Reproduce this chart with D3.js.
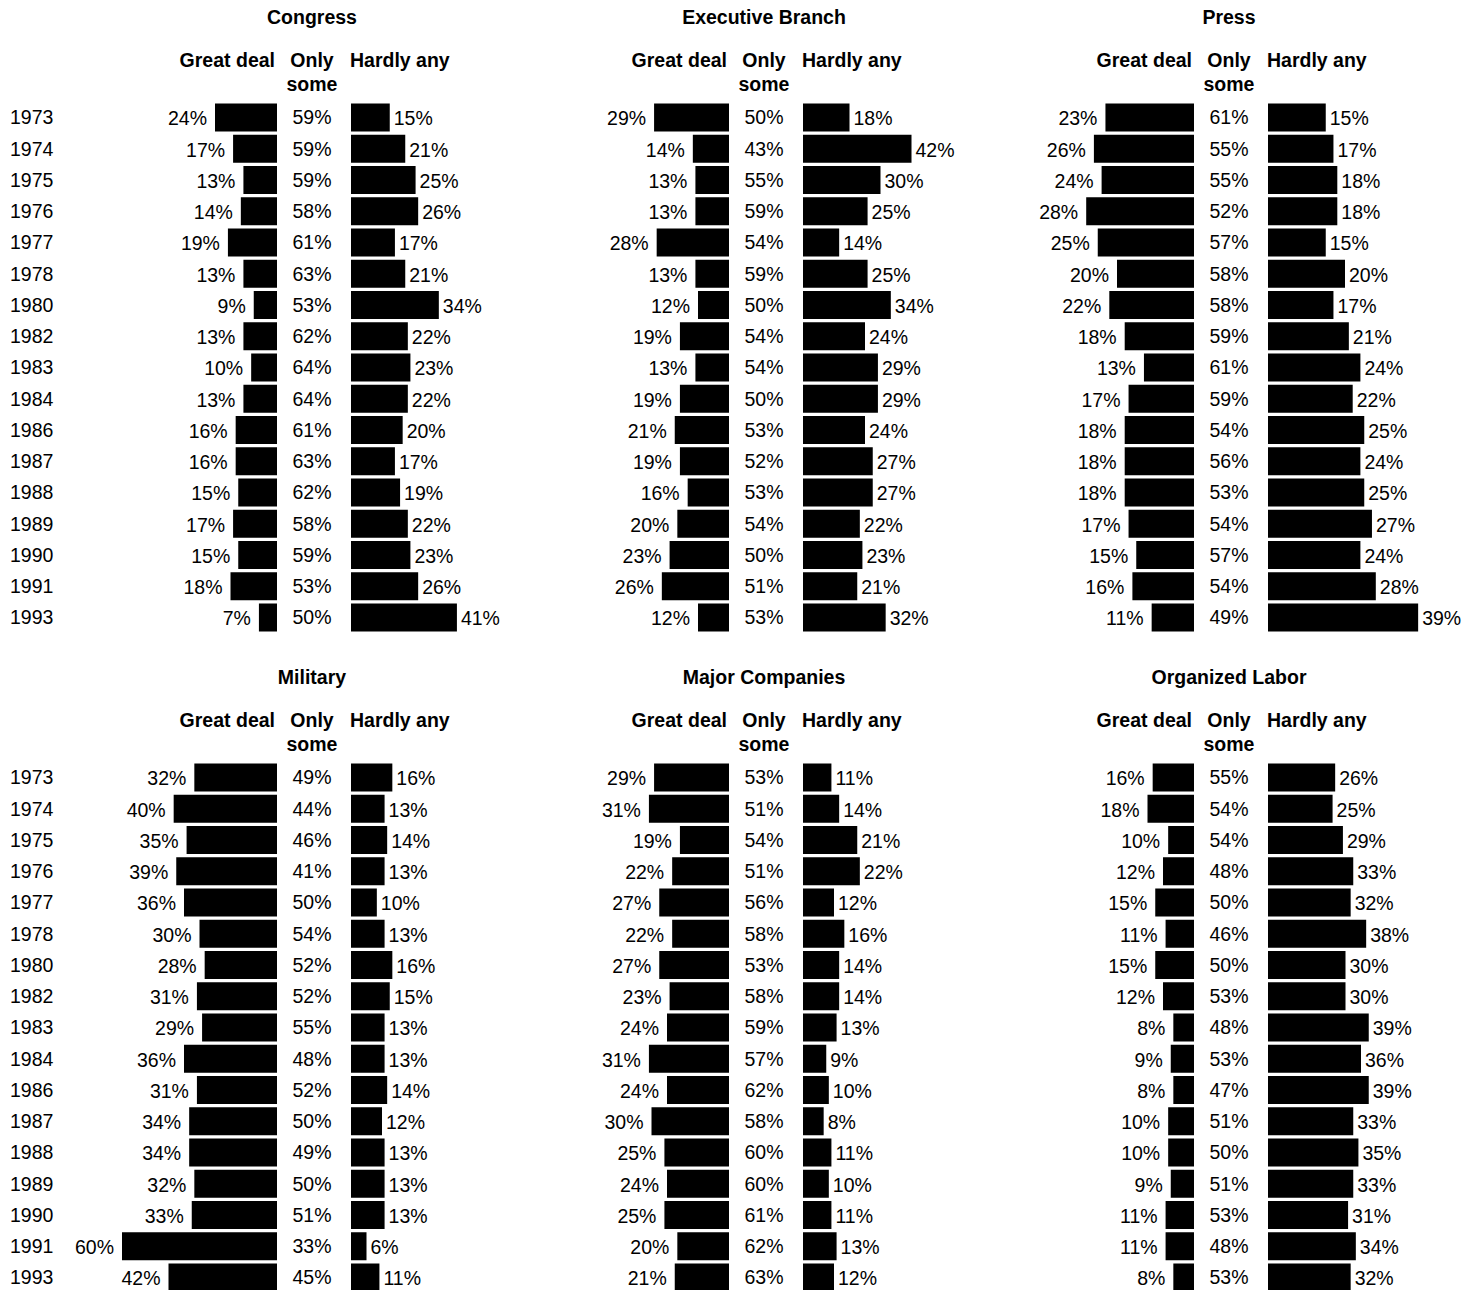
<!DOCTYPE html>
<html>
<head>
<meta charset="utf-8">
<script src="https://cdn.jsdelivr.net/npm/d3@7"></script>
<style>
  body { margin: 0; background: #fff; }
  text { font-family: "Liberation Sans", Arial, Helvetica, sans-serif; fill: #000; }
  .ttl, .hdr { font-weight: bold; }
</style>
</head>
<body>
<svg id="chart"></svg>
<script>
// survey years (rows)
var years = ['1973','1974','1975','1976','1977','1978','1980','1982','1983','1984','1986','1987','1988','1989','1990','1991','1993'];

// column headers
var headGreat = 'Great deal';
var headSome = ['Only', 'some'];
var headHardly = 'Hardly any';

// Congress
var congressGreat  = [24,17,13,14,19,13, 9,13,10,13,16,16,15,17,15,18, 7];
var congressSome   = [59,59,59,58,61,63,53,62,64,64,61,63,62,58,59,53,50];
var congressHardly = [15,21,25,26,17,21,34,22,23,22,20,17,19,22,23,26,41];

// Executive Branch
var execGreat  = [29,14,13,13,28,13,12,19,13,19,21,19,16,20,23,26,12];
var execSome   = [50,43,55,59,54,59,50,54,54,50,53,52,53,54,50,51,53];
var execHardly = [18,42,30,25,14,25,34,24,29,29,24,27,27,22,23,21,32];

// Press
var pressGreat  = [23,26,24,28,25,20,22,18,13,17,18,18,18,17,15,16,11];
var pressSome   = [61,55,55,52,57,58,58,59,61,59,54,56,53,54,57,54,49];
var pressHardly = [15,17,18,18,15,20,17,21,24,22,25,24,25,27,24,28,39];

// Military
var militaryGreat  = [32,40,35,39,36,30,28,31,29,36,31,34,34,32,33,60,42];
var militarySome   = [49,44,46,41,50,54,52,52,55,48,52,50,49,50,51,33,45];
var militaryHardly = [16,13,14,13,10,13,16,15,13,13,14,12,13,13,13, 6,11];

// Major Companies
var companiesGreat  = [29,31,19,22,27,22,27,23,24,31,24,30,25,24,25,20,21];
var companiesSome   = [53,51,54,51,56,58,53,58,59,57,62,58,60,60,61,62,63];
var companiesHardly = [11,14,21,22,12,16,14,14,13, 9,10, 8,11,10,11,13,12];

// Organized Labor
var laborGreat  = [16,18,10,12,15,11,15,12, 8, 9, 8,10,10, 9,11,11, 8];
var laborSome   = [55,54,54,48,50,46,50,53,48,53,47,51,50,51,53,48,53];
var laborHardly = [26,25,29,33,32,38,30,30,39,36,39,33,35,33,31,34,32];

var panels = [
  {title: 'Congress',         great: congressGreat,  some: congressSome,  hardly: congressHardly,  col: 0, row: 0, wide: false},
  {title: 'Executive Branch', great: execGreat,      some: execSome,      hardly: execHardly,      col: 1, row: 0, wide: false},
  {title: 'Press',            great: pressGreat,     some: pressSome,     hardly: pressHardly,     col: 2, row: 0, wide: true},
  {title: 'Military',         great: militaryGreat,  some: militarySome,  hardly: militaryHardly,  col: 0, row: 1, wide: false},
  {title: 'Major Companies',  great: companiesGreat, some: companiesSome, hardly: companiesHardly, col: 1, row: 1, wide: false},
  {title: 'Organized Labor',  great: laborGreat,     some: laborSome,     hardly: laborHardly,     col: 2, row: 1, wide: false}
];

var W = 1479, H = 1290;
var svg = d3.select('#chart').attr('width', W).attr('height', H);
svg.append('rect').attr('width', W).attr('height', H).attr('fill', '#fff');

// layout
var colCenters = [314, 766, 1231];
var rowTops = [0, 660];           // offset of each panel row
var gap = 37;                     // half gap between bar columns
var barH = 28;
var fs = 19.5;

// bar length scales (the Press panel is drawn at a larger scale in the source)
var xStd = d3.scaleLinear().domain([0, 60]).range([0, 155]);
var xWide = d3.scaleLinear().domain([0, 40]).range([0, 154]);

function drawPanel(p){
  var cx = colCenters[p.col];
  var top = rowTops[p.row];
  var x = p.wide ? xWide : xStd;
  var y = d3.scalePoint().domain(years).range([top + 117.5, top + 617.5]);
  var rows = years.map(function(yr, i){
    return {year: yr, great: p.great[i], some: p.some[i], hardly: p.hardly[i]};
  });

  var g = svg.append('g').attr('class', 'panel');

  g.append('text').attr('class', 'ttl')
    .attr('x', cx - 2).attr('y', top + 24)
    .attr('text-anchor', 'middle').attr('font-size', fs)
    .text(p.title);

  g.append('text').attr('class', 'hdr')
    .attr('x', cx - gap - 2).attr('y', top + 67)
    .attr('text-anchor', 'end').attr('font-size', fs)
    .text(headGreat);
  g.append('text').attr('class', 'hdr')
    .attr('x', cx - 2).attr('y', top + 67)
    .attr('text-anchor', 'middle').attr('font-size', fs)
    .text(headSome[0]);
  g.append('text').attr('class', 'hdr')
    .attr('x', cx - 2).attr('y', top + 91)
    .attr('text-anchor', 'middle').attr('font-size', fs)
    .text(headSome[1]);
  g.append('text').attr('class', 'hdr')
    .attr('x', cx + gap - 1).attr('y', top + 67)
    .attr('text-anchor', 'start').attr('font-size', fs)
    .text(headHardly);

  // year labels only on the left-most column
  if(p.col === 0){
    g.selectAll('text.yr').data(rows).enter().append('text')
      .attr('class', 'yr')
      .attr('x', 10).attr('y', function(d){ return y(d.year); })
      .attr('dy', '0.35em').attr('font-size', fs)
      .text(function(d){ return d.year; });
  }

  // great deal bars, growing leftwards
  g.selectAll('rect.great').data(rows).enter().append('rect')
    .attr('class', 'great')
    .attr('x', function(d){ return cx - gap - x(d.great); })
    .attr('y', function(d){ return y(d.year) - barH / 2; })
    .attr('width', function(d){ return x(d.great); })
    .attr('height', barH)
    .attr('fill', '#000');
  g.selectAll('text.great').data(rows).enter().append('text')
    .attr('class', 'great')
    .attr('x', function(d){ return cx - gap - x(d.great) - 8; })
    .attr('y', function(d){ return y(d.year) + 1; })
    .attr('dy', '0.35em').attr('text-anchor', 'end').attr('font-size', fs)
    .text(function(d){ return d.great + '%'; });

  // only some: text only
  g.selectAll('text.some').data(rows).enter().append('text')
    .attr('class', 'some')
    .attr('x', cx - 2)
    .attr('y', function(d){ return y(d.year); })
    .attr('dy', '0.35em').attr('text-anchor', 'middle').attr('font-size', fs)
    .text(function(d){ return d.some + '%'; });

  // hardly any bars, growing rightwards
  g.selectAll('rect.hardly').data(rows).enter().append('rect')
    .attr('class', 'hardly')
    .attr('x', cx + gap)
    .attr('y', function(d){ return y(d.year) - barH / 2; })
    .attr('width', function(d){ return x(d.hardly); })
    .attr('height', barH)
    .attr('fill', '#000');
  g.selectAll('text.hardly').data(rows).enter().append('text')
    .attr('class', 'hardly')
    .attr('x', function(d){ return cx + gap + x(d.hardly) + 4; })
    .attr('y', function(d){ return y(d.year) + 1; })
    .attr('dy', '0.35em').attr('text-anchor', 'start').attr('font-size', fs)
    .text(function(d){ return d.hardly + '%'; });
}

panels.forEach(drawPanel);
</script>
</body>
</html>
